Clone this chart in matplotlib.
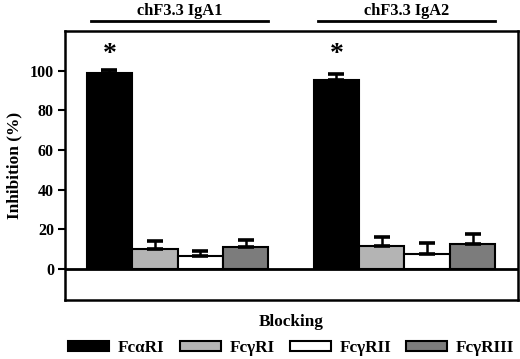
import matplotlib
matplotlib.use("Agg")
import matplotlib.pyplot as plt
from matplotlib.patches import Patch

plt.rcParams['font.family'] = ['Liberation Serif', 'DejaVu Serif']
plt.rcParams['font.weight'] = 'bold'

groups = ["chF3.3 IgA1", "chF3.3 IgA2"]
blockers = ["FcαRI", "FcγRI", "FcγRII", "FcγRIII"]
colors = ["#000000", "#b4b4b4", "#ffffff", "#7c7c7c"]
values = {
    "chF3.3 IgA1": [99.0, 10.0, 6.5, 11.2],
    "chF3.3 IgA2": [95.5, 11.8, 7.5, 12.7],
}
errors = {
    "chF3.3 IgA1": [1.2, 4.2, 2.4, 3.4],
    "chF3.3 IgA2": [2.7, 4.2, 5.6, 4.9],
}
significant = {"chF3.3 IgA1": [True, False, False, False],
               "chF3.3 IgA2": [True, False, False, False]}
yticks = [0, 20, 40, 60, 80, 100]

fig = plt.figure(figsize=(5.2, 3.59), dpi=100)
ax = fig.add_axes([0.125, 0.1643, 0.871, 0.7493])

group_gap = 5
for gi, g in enumerate(groups):
    xs = [gi * group_gap + i for i in range(len(blockers))]
    ax.bar(xs, values[g], width=1.0, color=colors, edgecolor='black',
           linewidth=1.5, zorder=2)
    ax.errorbar(xs, values[g], yerr=[[0] * len(xs), errors[g]], fmt='none',
                ecolor='black', elinewidth=1.8, capsize=6, capthick=2.6, zorder=3)
    for x, v, e, s in zip(xs, values[g], errors[g], significant[g]):
        if s:
            ax.text(x, 108, "*", ha='center', va='center', fontsize=20,
                    fontweight='bold')
    # group label + line
    x0, x1 = xs[0] - 0.4, xs[-1] + 0.5
    ax.plot([x0, x1], [1.037, 1.037], color='black', lw=2,
            transform=ax.get_xaxis_transform(), clip_on=False)
    ax.text((xs[0] + xs[-1]) / 2 + 0.05, 1.075, g, ha='center', va='center',
            fontsize=11.8, fontweight='bold', transform=ax.get_xaxis_transform())

ax.axhline(0, color='black', lw=2, zorder=4)
ax.set_xlim(-0.98, 9.0)
ax.set_ylim(-15.6, 120)
ax.set_yticks(yticks)
ax.set_yticklabels([str(t) for t in yticks], fontsize=11.5, fontweight='bold')
ax.set_xticks([])
ax.tick_params(axis='y', direction='out', length=5, width=1.5, pad=3)
for sp in ax.spines.values():
    sp.set_linewidth(1.8)
ax.set_ylabel("Inhibition (%)", fontsize=12.5, fontweight='bold', labelpad=5)
ax.set_xlabel("Blocking", fontsize=12.3, fontweight='bold', labelpad=10)

handles = [Patch(facecolor=c, edgecolor='black', linewidth=1.5) for c in colors]
fig.legend(handles, blockers, loc='center', bbox_to_anchor=(0.56, 0.03),
           ncol=4, frameon=False, handlelength=2.4,
           handleheight=0.5, handletextpad=0.5, columnspacing=0.9,
           prop={'weight': 'bold', 'size': 12.3})

fig.savefig("out.png", dpi=100)
